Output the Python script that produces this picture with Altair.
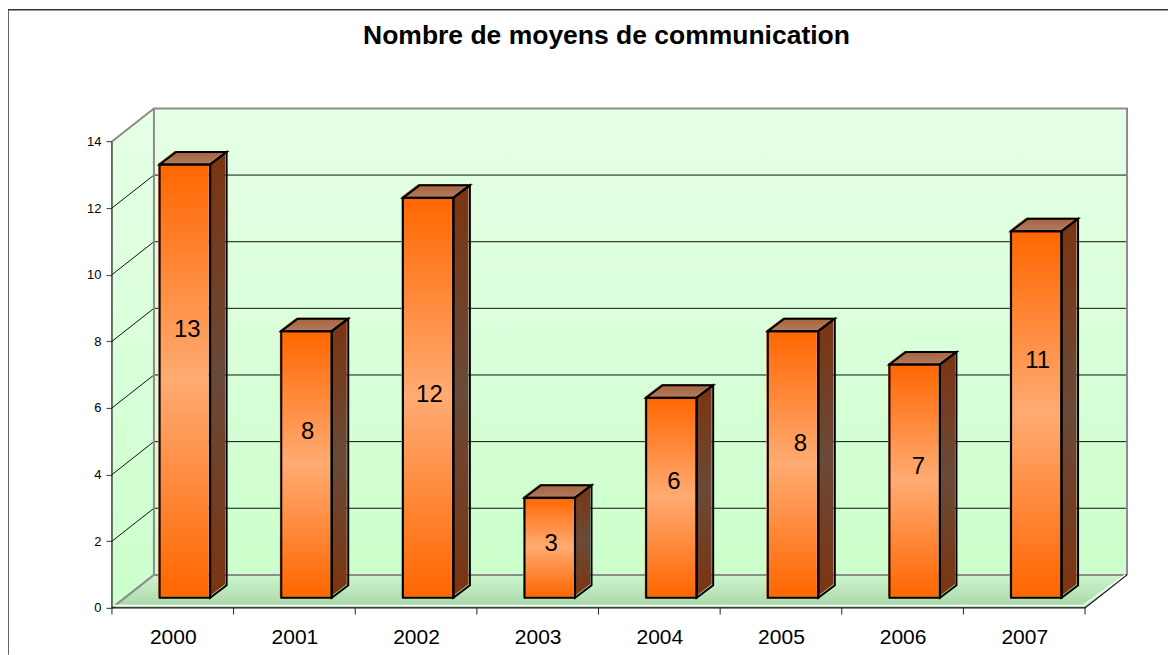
import json
import altair as alt
import pandas as pd

years = ["2000", "2001", "2002", "2003", "2004", "2005", "2006", "2007"]
values = [13, 8, 12, 3, 6, 8, 7, 11]
label_x = [0.62, 1.61, 2.61, 3.61, 4.62, 5.66, 6.63, 7.61]
label_y = [8.35, 5.27, 6.40, 1.92, 3.78, 4.92, 4.23, 7.42]

FONT = "Liberation Sans"
XU, YU = 121.7, 100 / 3          # px per unit, used only to convert depth offsets
BACK_X, BACK_Y = 42 / XU, 0.99   # wall depth
BAR_OFF, BAR_W = 0.392, 0.415
BAR_BASE = 0.306
SIDE_X, SIDE_Y = 16.5 / XU, 0.375
XMAX, YMAX = 8.345, 15
FX0, FX1, FY1, FY0 = -0.855, 8.74, 17.95, -1.41
SHIFT_X, SHIFT_Y = -0.012, 0.03

X = alt.X("x:Q", scale=alt.Scale(domain=[0, XMAX], nice=False, zero=False), title=None,
          axis=alt.Axis(values=[i + 0.5 for i in range(8)], domain=False, grid=False, ticks=False,
                        labelExpr=json.dumps(years) + "[floor(datum.value)]",
                        labelFont=FONT, labelFontSize=21, labelColor="#000", labelPadding=19,
                        labelFlush=False, labelOverlap=False, labelAngle=0))
Y = alt.Y("y:Q", scale=alt.Scale(domain=[0, YMAX], nice=False, zero=False), title=None,
          axis=alt.Axis(values=list(range(0, 15, 2)), domain=False, grid=False, tickSize=6,
                        tickColor="#555", tickWidth=1.2, labelFont=FONT, labelFontSize=13,
                        labelColor="#000", labelPadding=5))


def grad(*cols, horizontal=False):
    n = len(cols) - 1
    return alt.Gradient(gradient="linear", x1=0, y1=0, x2=1 if horizontal else 0, y2=0 if horizontal else 1,
                        stops=[alt.GradientStop(color=c, offset=i / n) for i, c in enumerate(cols)])


def area(rows, **mark):
    return alt.Chart(pd.DataFrame(rows, columns=["k", "x", "y", "y2"])).mark_area(**mark).encode(
        x=X, y=Y, y2="y2:Q", detail="k:N")


def line(rows, **mark):
    return alt.Chart(pd.DataFrame(rows, columns=["k", "o", "x", "y"])).mark_line(**mark).encode(
        x=X, y=Y, detail="k:N", order="o:Q")


def poly(pts):
    return [(k, i, x, y) for k, seq in pts for i, (x, y) in enumerate(seq)]


# walls and floor
wall_left = [("w", 0, 14, 0), ("w", BACK_X, 14 + BACK_Y, BACK_Y)]
wall_back = [("b", BACK_X, 14 + BACK_Y, BACK_Y), ("b", 8 + BACK_X, 14 + BACK_Y, BACK_Y)]
floor = [("f", 0, 0, 0), ("f", BACK_X, BACK_Y, 0), ("f", 8, BACK_Y, 0), ("f", 8 + BACK_X, BACK_Y, BACK_Y)]
WALL = grad("#E6FFE6", "#CCFFCC")

# grid lines
grid = poly([(str(v), [(0, v), (BACK_X, v + BACK_Y), (8 + BACK_X, v + BACK_Y)]) for v in range(2, 14, 2)])
grey_edges = poly([
    ("a", [(0, 14), (BACK_X, 14 + BACK_Y), (8 + BACK_X, 14 + BACK_Y), (8 + BACK_X, BACK_Y)]),
    ("b", [(BACK_X, 14 + BACK_Y), (BACK_X, BACK_Y), (8 + BACK_X, BACK_Y)]),
    ("c", [(0, 0), (BACK_X, BACK_Y)]),
])
white_edges = poly([
    ("a", [(0, 0.07), (7.985, 0.07), (8 + BACK_X - 0.015, BACK_Y)]),
])
black_edges = poly([
    ("a", [(0, 0), (8, 0), (8 + BACK_X, BACK_Y)]),
    ("b", [(0, 0), (0, 14)]),
])
frame = poly([("a", [(FX0, FY0), (FX0, FY1), (FX1, FY1)])])
ticks = poly([(str(i), [(i, 0), (i, -0.2)]) for i in range(9)])

# bars: fill shapes carry a small registration offset relative to their outline
front, side, top = [], [], []
for i, v in enumerate(values):
    x0, x1 = i + BAR_OFF, i + BAR_OFF + BAR_W
    yb, yt = BAR_BASE, BAR_BASE + v
    front.append(dict(x=x0, x2=x1, y=yb, y2=yt))
    side += [(i, x1, yt, yb), (i, x1 + SIDE_X, yt + SIDE_Y, yb + SIDE_Y)]
    top += [(i, x0, yt, yt), (i, x0 + SIDE_X, yt + SIDE_Y, yt),
            (i, x1, yt + SIDE_Y, yt), (i, x1 + SIDE_X, yt + SIDE_Y, yt + SIDE_Y)]


def shifted(rows):
    return [(k, x + SHIFT_X, y + SHIFT_Y, y2 + SHIFT_Y) for k, x, y, y2 in rows]


front_df = pd.DataFrame(front)
front_fill = front_df.assign(x=front_df.x + SHIFT_X, x2=front_df.x2 + SHIFT_X, y=front_df.y + SHIFT_Y,
                             y2=front_df.y2 + SHIFT_Y)


def rect(df, **mark):
    return alt.Chart(df).mark_rect(**mark).encode(x=X, x2="x2:Q", y=Y, y2="y2:Q")


labels = pd.DataFrame({"x": label_x, "y": label_y, "t": [str(v) for v in values]})

chart = alt.layer(
    line(frame, color="#333333", strokeWidth=1.6),
    area(wall_left, color=WALL),
    area(wall_back, color=WALL),
    area(floor, color=grad("#CCF7CC", "#A8D5A8")),
    line(grid, color="#111111", strokeWidth=1),
    line(grey_edges, color="#8C8C8C", strokeWidth=2),
    line(white_edges, color="#FFFFFF", strokeWidth=1.5),
    line(black_edges, color="#111111", strokeWidth=1.2),
    line(ticks, color="#222222", strokeWidth=1),
    area(shifted(side), color=grad("#7C3410", "#6A4A38", "#7C3410")),
    area(shifted(top), color=grad("#A5623C", "#B07A5C")),
    rect(front_fill, color=grad("#FF6600", "#FFAB73", "#FF6600")),
    area(side, fillOpacity=0, stroke="#000000", strokeWidth=2),
    area(top, fillOpacity=0, stroke="#000000", strokeWidth=2),
    rect(front_df, fillOpacity=0, stroke="#000000", strokeWidth=2),
    alt.Chart(labels).mark_text(font=FONT, fontSize=24, color="#000000").encode(x=X, y=Y, text="t:N"),
).properties(
    width=1015.5,
    height=500,
    padding={"left": 104, "top": 100, "right": 41, "bottom": 47},
    autosize=alt.AutoSizeParams(type="none"),
    title=alt.TitleParams("Nombre de moyens de communication", font=FONT, fontSize=26.5, fontWeight="bold",
                          color="#000000", anchor="middle", frame="group", dx=-13, offset=0, dy=43),
    background="#FFFFFF",
).configure_view(stroke=None)

chart.save("out.html", embed_options={"renderer": "svg", "actions": False})
